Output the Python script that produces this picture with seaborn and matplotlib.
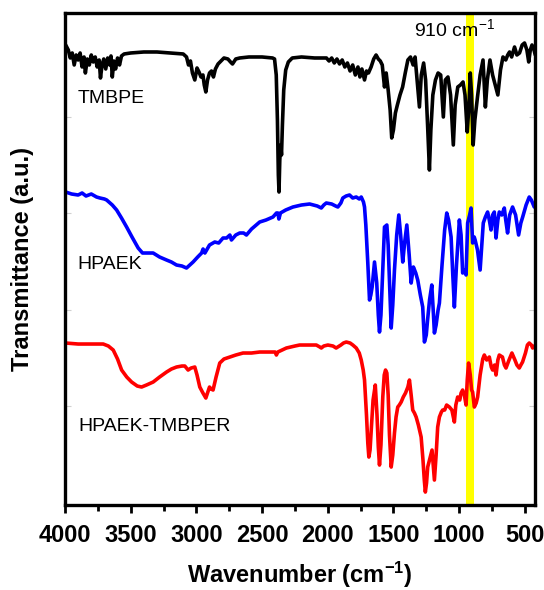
import pandas as pd
import matplotlib
matplotlib.use('Agg')
import matplotlib.pyplot as plt
import seaborn as sns

# FTIR spectra (wavenumber in cm-1, transmittance in a.u.)
tmbpe_wn = [3995, 3975, 3960, 3945, 3930, 3915, 3900, 3885, 3870, 3855, 3845, 3830, 3815, 3800, 3785,
            3770, 3755, 3740, 3730, 3718, 3705, 3690, 3675, 3660, 3650, 3640, 3628, 3615, 3600, 3585,
            3570, 3550, 3500, 3400, 3300, 3200, 3100, 3075, 3060, 3045, 3030, 3012, 2995, 2980, 2965,
            2950, 2940, 2928, 2915, 2900, 2885, 2870, 2855, 2835, 2820, 2790, 2760, 2740, 2725, 2700,
            2670, 2600, 2500, 2420, 2405, 2392, 2383, 2376, 2371, 2365, 2358, 2352, 2345, 2335, 2320,
            2300, 2270, 2200, 2100, 2010, 1990, 1970, 1950, 1930, 1910, 1890, 1870, 1850, 1830, 1810,
            1790, 1770, 1755, 1740, 1720, 1705, 1690, 1670, 1650, 1632, 1615, 1600, 1585, 1568, 1555,
            1540, 1525, 1513, 1500, 1485, 1470, 1450, 1430, 1410, 1390, 1370, 1350, 1335, 1320, 1302,
            1288, 1270, 1255, 1240, 1226, 1215, 1200, 1180, 1160, 1140, 1120, 1105, 1085, 1065, 1044,
            1030, 1010, 990, 970, 955, 938, 925, 915, 905, 893, 880, 860, 840, 818, 810,
            800, 785, 765, 745, 725, 705, 685, 666, 645, 630, 616, 600, 578, 560, 540,
            520, 502, 484, 470, 458, 445, 430, 420]
tmbpe_t = [460, 455, 447, 452, 440, 450, 445, 452, 438, 448, 432, 446, 440, 450, 443,
           448, 438, 445, 427, 440, 446, 436, 447, 440, 449, 428, 444, 436, 447, 440,
           449, 451, 452, 453, 453, 452, 451, 448, 440, 444, 432, 425, 437, 433, 428,
           430, 420, 413, 425, 432, 434, 428, 436, 441, 443, 447, 446, 443, 441, 446,
           447, 448, 448, 447, 446, 430, 385, 330, 313, 345, 360, 350, 380, 415, 435,
           443, 447, 448, 447, 447, 444, 447, 442, 446, 441, 445, 438, 442, 434, 440,
           430, 438, 428, 436, 425, 434, 432, 438, 446, 450, 446, 444, 440, 418, 432,
           415, 395, 367, 375, 392, 400, 410, 418, 432, 445, 448, 440, 448, 425, 398,
           430, 442, 425, 380, 335, 375, 410, 425, 432, 430, 388, 425, 428, 410, 360,
           400, 418, 420, 423, 410, 373, 400, 432, 410, 360, 385, 408, 430, 445, 425,
           398, 425, 445, 430, 420, 410, 435, 448, 445, 450, 453, 448, 458, 450, 452,
           460, 462, 455, 443, 455, 460, 455, 450]

hpaek_wn = [3995, 3950, 3900, 3870, 3840, 3800, 3760, 3734, 3700, 3683, 3640, 3607, 3570, 3531, 3490,
            3443, 3410, 3379, 3329, 3280, 3227, 3190, 3151, 3110, 3075, 3050, 3025, 2990, 2960, 2949,
            2935, 2900, 2860, 2830, 2797, 2770, 2745, 2733, 2700, 2670, 2640, 2619, 2580, 2518, 2470,
            2417, 2390, 2379, 2372, 2360, 2320, 2265, 2200, 2138, 2080, 2049, 2030, 2011, 1970, 1940,
            1923, 1900, 1885, 1860, 1834, 1810, 1783, 1760, 1745, 1728, 1720, 1710, 1695, 1682, 1672,
            1662, 1644, 1627, 1615, 1606, 1595, 1580, 1568, 1550, 1540, 1530, 1517, 1505, 1492, 1475,
            1459, 1445, 1429, 1415, 1398, 1380, 1365, 1348, 1330, 1315, 1295, 1277, 1264, 1250, 1240,
            1225, 1208, 1195, 1188, 1175, 1160, 1150, 1130, 1110, 1094, 1080, 1061, 1048, 1036, 1020,
            998, 985, 973, 960, 947, 935, 920, 909, 897, 885, 878, 860, 840, 828, 816,
            800, 783, 770, 757, 745, 732, 719, 705, 694, 675, 656, 645, 631, 615, 593,
            570, 547, 530, 516, 490, 466, 450, 428]
hpaek_t = [313, 311, 310, 312, 309, 311, 308, 307, 306, 305, 300, 295, 287, 278, 268,
           257, 252, 252, 252, 248, 245, 243, 240, 239, 237, 240, 243, 248, 252, 256,
           252, 260, 263, 262, 267, 267, 270, 265, 270, 272, 272, 270, 276, 283, 285,
           288, 292, 292, 286, 292, 295, 298, 300, 301, 299, 297, 300, 302, 301, 299,
           298, 302, 307, 309, 310, 307, 308, 306, 308, 303, 298, 280, 242, 205, 210,
           218, 243, 222, 190, 173, 190, 240, 278, 280, 260, 225, 177, 200, 235, 270,
           290, 270, 243, 262, 280, 250, 222, 238, 232, 225, 210, 198, 163, 170, 185,
           205, 220, 190, 172, 180, 195, 202, 240, 275, 292, 285, 268, 230, 198, 240,
           285, 270, 232, 235, 230, 282, 290, 297, 262, 268, 265, 255, 235, 258, 282,
           288, 293, 285, 275, 290, 293, 267, 285, 293, 290, 297, 285, 272, 290, 298,
           290, 270, 282, 288, 300, 308, 305, 298]

blend_wn = [3995, 3900, 3800, 3709, 3670, 3633, 3600, 3569, 3530, 3493, 3450, 3417, 3380, 3329, 3280,
            3227, 3190, 3151, 3110, 3088, 3075, 3063, 3040, 3012, 2995, 2974, 2950, 2928, 2915, 2900,
            2887, 2873, 2850, 2822, 2790, 2746, 2700, 2645, 2580, 2518, 2450, 2400, 2391, 2380, 2315,
            2250, 2214, 2150, 2087, 2060, 2049, 2030, 1999, 1960, 1936, 1900, 1880, 1859, 1830, 1809,
            1783, 1760, 1745, 1730, 1720, 1705, 1695, 1687, 1678, 1669, 1655, 1638, 1625, 1615, 1606,
            1595, 1581, 1570, 1560, 1550, 1540, 1530, 1517, 1505, 1492, 1480, 1467, 1455, 1441, 1425,
            1408, 1390, 1378, 1365, 1353, 1340, 1327, 1310, 1289, 1275, 1265, 1257, 1248, 1239, 1225,
            1206, 1197, 1188, 1175, 1163, 1150, 1135, 1125, 1110, 1095, 1074, 1055, 1036, 1025, 1011,
            995, 985, 973, 960, 947, 938, 928, 915, 905, 897, 884, 870, 859, 840, 820,
            808, 790, 770, 755, 745, 730, 719, 705, 694, 670, 655, 643, 620, 598, 575,
            560, 542, 530, 517, 495, 480, 466, 450, 440, 428]
blend_t = [162, 161, 161, 161, 159, 155, 146, 135, 128, 123, 119, 118, 120, 123, 128,
           133, 136, 138, 139, 139, 137, 135, 137, 138, 130, 118, 112, 107, 112, 118,
           116, 115, 128, 142, 146, 148, 150, 152, 152, 153, 153, 153, 150, 153, 157,
           159, 160, 160, 160, 158, 157, 159, 160, 159, 157, 160, 162, 163, 162, 160,
           157, 152, 145, 135, 125, 90, 62, 48, 55, 75, 105, 120, 90, 58, 40,
           60, 108, 130, 135, 132, 110, 70, 38, 50, 72, 88, 98, 100, 103, 108,
           112, 118, 125, 110, 95, 92, 88, 80, 68, 45, 25, 13, 22, 38, 45,
           55, 40, 25, 50, 78, 88, 93, 95, 95, 100, 98, 95, 83, 100, 108,
           105, 112, 115, 110, 100, 125, 142, 130, 115, 113, 98, 102, 108, 130, 146,
           150, 145, 148, 138, 135, 140, 130, 145, 150, 148, 140, 137, 145, 152, 145,
           140, 137, 140, 143, 152, 160, 162, 160, 157, 159]

series_names = ['TMBPE', 'HPAEK', 'HPAEK-TMBPER']
series_colors = ['black', '#0000ff', '#ff0000']
x_ticks = [4000, 3500, 3000, 2500, 2000, 1500, 1000, 500]
band_center = 915

# long table for seaborn
df = pd.concat([
    pd.DataFrame({'wn': tmbpe_wn, 't': tmbpe_t, 'sample': 'TMBPE'}),
    pd.DataFrame({'wn': hpaek_wn, 't': hpaek_t, 'sample': 'HPAEK'}),
    pd.DataFrame({'wn': blend_wn, 't': blend_t, 'sample': 'HPAEK-TMBPER'}),
])

sns.set_style('ticks')
plt.rcParams['font.family'] = ['Liberation Sans', 'DejaVu Sans']
plt.rcParams['mathtext.fontset'] = 'custom'
plt.rcParams['mathtext.rm'] = 'Liberation Sans'
plt.rcParams['mathtext.bf'] = 'Liberation Sans:bold'
plt.rcParams['mathtext.default'] = 'regular'
plt.rcParams['text.color'] = 'black'
plt.rcParams['axes.labelcolor'] = 'black'
plt.rcParams['xtick.color'] = 'black'
plt.rcParams['xtick.labelcolor'] = 'black'

fig = plt.figure(figsize=(5.44, 5.9), dpi=100)
ax = fig.add_axes([0.1195, 0.144, 0.8645, 0.834])

# highlight band behind the spectra
ax.axvspan(band_center - 30, band_center + 30, color='#ffff00', lw=0, zorder=0)

sns.lineplot(data=df, x='wn', y='t', hue='sample', hue_order=series_names,
             palette=series_colors, linewidth=2.6, legend=False, ax=ax, zorder=2)

# curve labels
ax.text(3905, 406, 'TMBPE', fontsize=14, va='center', ha='left')
ax.text(3905, 241, 'HPAEK', fontsize=14, va='center', ha='left')
ax.text(3900, 79, 'HPAEK-TMBPER', fontsize=14, va='center', ha='left')
ax.text(1345, 476, '910 cm$^{-1}$', fontsize=14, va='center', ha='left')

ax.set_xlim(4000, 420)
ax.set_ylim(0, 492)
ax.set_xticks(x_ticks)
ax.set_xticklabels([str(t) for t in x_ticks], fontsize=17, fontweight='bold')
ax.set_xticks(range(3750, 400, -500), minor=True)
ax.tick_params(axis='x', which='major', direction='out', length=6, width=2, pad=8)
ax.tick_params(axis='x', which='minor', direction='out', length=4, width=2)
ax.set_yticks([99, 195, 292, 388])
ax.tick_params(axis='y', which='major', direction='in', length=4, width=0.8,
               color='#d0d0d0', labelleft=False, left=True, right=True)

for s in ax.spines.values():
    s.set_linewidth(2.4)
    s.set_color('black')

ax.set_xlabel('Wavenumber (cm$^{-1}$)', fontsize=17, fontweight='bold')
ax.set_ylabel('Transmittance (a.u.)', fontsize=17, fontweight='bold')
ax.xaxis.set_label_coords(0.5, -0.112)
ax.xaxis.label.set_va('top')
ax.yaxis.set_label_coords(-0.065, 0.5)

fig.savefig('out.png', dpi=100)
